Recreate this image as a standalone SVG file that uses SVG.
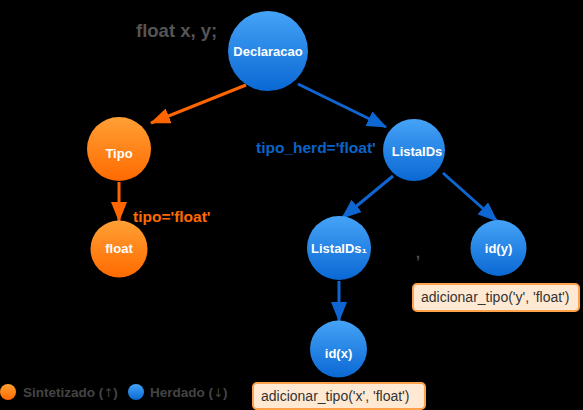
<svg xmlns="http://www.w3.org/2000/svg" width="583" height="410" viewBox="0 0 583 410">
<defs>
<linearGradient id="gO" x1="0" y1="0" x2="0" y2="1"><stop offset="0" stop-color="#FFA035"/><stop offset="1" stop-color="#FF6A00"/></linearGradient>
<linearGradient id="gB" x1="0" y1="0" x2="0" y2="1"><stop offset="0" stop-color="#45A3F7"/><stop offset="1" stop-color="#0A68D4"/></linearGradient>
<marker id="aO" viewBox="0 0 20 16" refX="19" refY="8" markerWidth="20" markerHeight="16" orient="auto" markerUnits="userSpaceOnUse"><path d="M0,0L20,8L0,16z" fill="#FF6600"/></marker>
<marker id="aB" viewBox="0 0 20 16" refX="19" refY="8" markerWidth="20" markerHeight="16" orient="auto" markerUnits="userSpaceOnUse"><path d="M0,0L20,8L0,16z" fill="#0E66D2"/></marker>
</defs>
<style>
text{font-family:"Liberation Sans",Arial,sans-serif}
.nl{fill:#fff;font-weight:bold;font-size:13px;text-anchor:middle}
.eO{stroke:#FF6600;stroke-width:3;fill:none;marker-end:url(#aO)}
.eB{stroke:#0E66D2;stroke-width:3;fill:none;marker-end:url(#aB)}
.box{fill:#FFE9D2;stroke:#FFA24A;stroke-width:2}
.bt{fill:#333;font-size:14px}
.gray{fill:#555}
.lg{font-size:13.5px;font-weight:bold;fill:#444}
.ar{font-family:"DejaVu Sans",sans-serif;font-weight:normal;font-size:12px}
</style>
<rect width="583" height="410" fill="#000"/>
<text x="136" y="37" font-size="18.5" font-weight="bold" class="gray">float x, y;</text>
<g id="connectors">
<line class="eO" x1="246" y1="85" x2="151" y2="123"/>
<line class="eB" x1="298" y1="84" x2="386" y2="127"/>
<line class="eO" x1="119" y1="182" x2="119" y2="221"/>
<line class="eB" x1="393" y1="176" x2="342" y2="218"/>
<line class="eB" x1="443" y1="173" x2="497" y2="221"/>
<line class="eB" x1="339" y1="281" x2="339" y2="321"/>
</g>
<text x="133" y="222" font-size="15.5" font-weight="bold" fill="#FF6A00">tipo='float'</text>
<text x="256" y="153" font-size="15.5" font-weight="bold" fill="#0A64C8">tipo_herd='float'</text>
<g id="n_declaracao"><circle cx="268" cy="51" r="40" fill="url(#gB)"/><text class="nl" x="268" y="56">Declaracao</text></g>
<g id="n_tipo"><circle cx="119" cy="149" r="32" fill="url(#gO)"/><text class="nl" x="119" y="158">Tipo</text></g>
<g id="n_float"><circle cx="119" cy="249" r="28.5" fill="url(#gO)"/><text class="nl" x="119" y="253" font-size="12">float</text></g>
<g id="n_listaids"><circle cx="414" cy="150" r="31" fill="url(#gB)"/><text class="nl" x="417" y="156" font-size="12">ListaIDs</text></g>
<g id="n_listaids1"><circle cx="339" cy="248" r="32" fill="url(#gB)"/><text class="nl" x="339" y="253" font-size="12">ListaIDs₁</text></g>
<g id="n_idy"><circle cx="498.5" cy="248" r="28" fill="url(#gB)"/><text class="nl" x="498.5" y="253" font-size="12">id(y)</text></g>
<g id="n_idx"><circle cx="338.5" cy="349" r="28.5" fill="url(#gB)"/><text class="nl" x="338.5" y="358" font-size="12">id(x)</text></g>
<text x="416" y="258" font-size="14" font-weight="bold" class="gray">,</text>
<g id="box_y"><rect class="box" x="413" y="284" width="166" height="27" rx="4"/><text class="bt" x="421" y="302">adicionar_tipo('y', 'float')</text></g>
<g id="box_x"><rect class="box" x="253" y="383" width="172" height="26" rx="4"/><text class="bt" x="261" y="401">adicionar_tipo('x', 'float')</text></g>
<g id="legend">
<circle cx="8" cy="392" r="8" fill="url(#gO)"/>
<text x="23" y="397" class="lg">Sintetizado (<tspan class="ar">↑</tspan>)</text>
<circle cx="136" cy="392" r="8" fill="url(#gB)"/>
<text x="150" y="397" class="lg">Herdado (<tspan class="ar">↓</tspan>)</text>
</g>
</svg>
